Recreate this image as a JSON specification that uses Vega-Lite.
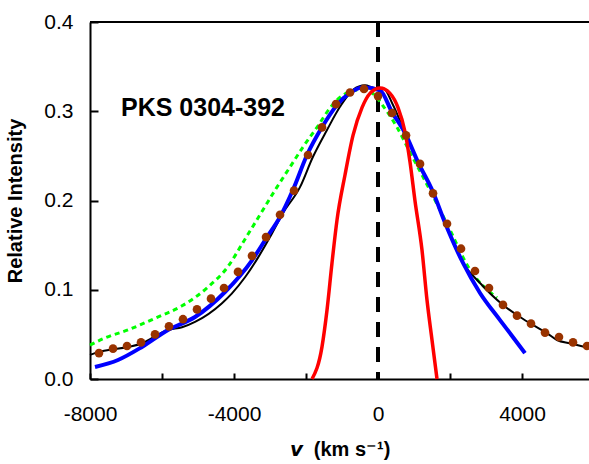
{
  "$schema": "https://vega.github.io/schema/vega-lite/v6.json",
  "autosize": {"type": "none"},
  "padding": {"left": 90, "top": 22, "right": 0, "bottom": 85},
  "width": 499,
  "height": 357,
  "background": "white",
  "config": {
    "view": {"stroke": null},
    "font": "Liberation Sans",
    "axis": {
      "domainColor": "black", "domainWidth": 2,
      "tickColor": "black", "tickWidth": 2,
      "grid": false,
      "labelFont": "Liberation Sans", "labelColor": "black", "labelFontSize": 21,
      "titleFont": "Liberation Sans", "titleColor": "black", "titleFontWeight": "bold"
    }
  },
  "datasets": {
    "black": [
      {"v": -8000, "I": 0.027}, {"v": -7861, "I": 0.029}, {"v": -6556, "I": 0.040},
      {"v": -5833, "I": 0.055}, {"v": -5444, "I": 0.058}, {"v": -5083, "I": 0.064},
      {"v": -4333, "I": 0.085}, {"v": -4056, "I": 0.096}, {"v": -3694, "I": 0.114},
      {"v": -3333, "I": 0.136}, {"v": -3000, "I": 0.159}, {"v": -2639, "I": 0.186},
      {"v": -2167, "I": 0.215}, {"v": -1806, "I": 0.249}, {"v": -1417, "I": 0.279},
      {"v": -1056, "I": 0.305}, {"v": -694, "I": 0.324}, {"v": -361, "I": 0.329},
      {"v": -83, "I": 0.326}, {"v": 139, "I": 0.326}, {"v": 417, "I": 0.307},
      {"v": 750, "I": 0.276}, {"v": 1111, "I": 0.243}, {"v": 1528, "I": 0.2095},
      {"v": 1861, "I": 0.175}, {"v": 2361, "I": 0.130}, {"v": 2833, "I": 0.1076},
      {"v": 3472, "I": 0.083}, {"v": 3944, "I": 0.0695}, {"v": 4306, "I": 0.0605},
      {"v": 4694, "I": 0.0515}, {"v": 4972, "I": 0.0437}, {"v": 5333, "I": 0.040},
      {"v": 5861, "I": 0.0347}
    ],
    "blue": [
      {"v": -7861, "I": 0.0134}, {"v": -7222, "I": 0.0213}, {"v": -6556, "I": 0.0359},
      {"v": -5833, "I": 0.0549}, {"v": -5083, "I": 0.0695}, {"v": -4250, "I": 0.0975},
      {"v": -3500, "I": 0.133}, {"v": -3083, "I": 0.159}, {"v": -2722, "I": 0.1815},
      {"v": -2361, "I": 0.212}, {"v": -1972, "I": 0.251}, {"v": -1556, "I": 0.282},
      {"v": -1139, "I": 0.307}, {"v": -778, "I": 0.3205}, {"v": -417, "I": 0.327},
      {"v": 56, "I": 0.3235}, {"v": 389, "I": 0.299}, {"v": 750, "I": 0.2756},
      {"v": 1111, "I": 0.243}, {"v": 1528, "I": 0.2095}, {"v": 1861, "I": 0.175},
      {"v": 2361, "I": 0.130}, {"v": 2833, "I": 0.0964}, {"v": 3389, "I": 0.066},
      {"v": 4083, "I": 0.029}
    ],
    "green": [
      {"v": -8000, "I": 0.038}, {"v": -7583, "I": 0.046}, {"v": -6944, "I": 0.055},
      {"v": -6194, "I": 0.068}, {"v": -5444, "I": 0.082}, {"v": -4722, "I": 0.103},
      {"v": -4167, "I": 0.126}, {"v": -3750, "I": 0.153}, {"v": -3278, "I": 0.184},
      {"v": -2806, "I": 0.215}, {"v": -2444, "I": 0.2375}, {"v": -2083, "I": 0.26},
      {"v": -1694, "I": 0.282}, {"v": -1333, "I": 0.3036}, {"v": -972, "I": 0.318},
      {"v": -500, "I": 0.324}, {"v": -150, "I": 0.320}, {"v": 139, "I": 0.306},
      {"v": 528, "I": 0.282}, {"v": 889, "I": 0.254}, {"v": 1222, "I": 0.2286},
      {"v": 2000, "I": 0.167}, {"v": 2472, "I": 0.128}, {"v": 3306, "I": 0.091}
    ],
    "red": [
      {"v": -1833, "I": 0.0}, {"v": -1556, "I": 0.036}, {"v": -1417, "I": 0.077},
      {"v": -1278, "I": 0.130}, {"v": -1139, "I": 0.178}, {"v": -917, "I": 0.2286},
      {"v": -694, "I": 0.273}, {"v": -444, "I": 0.304}, {"v": -222, "I": 0.320},
      {"v": 56, "I": 0.326}, {"v": 333, "I": 0.320}, {"v": 556, "I": 0.304},
      {"v": 750, "I": 0.277}, {"v": 889, "I": 0.243}, {"v": 1028, "I": 0.1994},
      {"v": 1222, "I": 0.1445}, {"v": 1361, "I": 0.0885}, {"v": 1500, "I": 0.0437},
      {"v": 1639, "I": 0.0}
    ],
    "dots": [
      {"v": -7750, "I": 0.029}, {"v": -7361, "I": 0.034}, {"v": -6972, "I": 0.037},
      {"v": -6583, "I": 0.041}, {"v": -6194, "I": 0.050}, {"v": -5806, "I": 0.059},
      {"v": -5417, "I": 0.067}, {"v": -5028, "I": 0.078}, {"v": -4639, "I": 0.090},
      {"v": -4278, "I": 0.102}, {"v": -3889, "I": 0.120}, {"v": -3500, "I": 0.138},
      {"v": -3111, "I": 0.159}, {"v": -2722, "I": 0.184}, {"v": -2333, "I": 0.211},
      {"v": -1944, "I": 0.251}, {"v": -1556, "I": 0.282}, {"v": -1167, "I": 0.308},
      {"v": -778, "I": 0.321}, {"v": -389, "I": 0.325}, {"v": 0, "I": 0.317},
      {"v": 389, "I": 0.298}, {"v": 778, "I": 0.273}, {"v": 1167, "I": 0.241},
      {"v": 1528, "I": 0.208}, {"v": 1917, "I": 0.174}, {"v": 2306, "I": 0.146},
      {"v": 2694, "I": 0.121}, {"v": 3083, "I": 0.102}, {"v": 3472, "I": 0.083},
      {"v": 3861, "I": 0.071}, {"v": 4250, "I": 0.062}, {"v": 4639, "I": 0.052},
      {"v": 5028, "I": 0.047}, {"v": 5417, "I": 0.041}, {"v": 5806, "I": 0.037}
    ],
    "label": [{"v": -4861, "I": 0.304, "text": "PKS 0304-392"}]
  },
  "layer": [
    {
      "data": {"name": "dots"},
      "mark": {"type": "rule", "color": "black", "strokeWidth": 3, "strokeDash": [15, 10]},
      "encoding": {"x": {"datum": 0, "type": "quantitative"}}
    },
    {
      "data": {"name": "dots"},
      "mark": {"type": "rule", "color": "black", "strokeWidth": 2},
      "encoding": {"y": {"datum": 0.4, "type": "quantitative"}}
    },
    {
      "data": {"name": "green"},
      "mark": {"type": "line", "color": "#00ff00", "strokeWidth": 3, "strokeDash": [5, 4], "interpolate": "monotone"},
      "encoding": {
        "x": {"field": "v", "type": "quantitative", "scale": {"domain": [-8000, 5861], "nice": false, "zero": false},
          "axis": {"values": [-8000, -6000, -4000, -2000, 0, 2000, 4000],
            "labelExpr": "datum.value % 4000 === 0 ? '' + datum.value : ''",
            "tickSize": -6, "labelPadding": 30, "labelFlush": false,
            "title": "𝙫\u00a0\u00a0(km s⁻¹)", "titleFontSize": 20, "titlePadding": 15}},
        "y": {"field": "I", "type": "quantitative", "scale": {"domain": [0, 0.4], "nice": false},
          "axis": {"values": [0, 0.1, 0.2, 0.3, 0.4], "format": ".1f",
            "tickSize": -8, "labelPadding": 25,
            "title": "Relative Intensity", "titleFontSize": 20, "titlePadding": 18}}
      }
    },
    {
      "data": {"name": "black"},
      "mark": {"type": "line", "color": "black", "strokeWidth": 2, "interpolate": "monotone"},
      "encoding": {"x": {"field": "v", "type": "quantitative"}, "y": {"field": "I", "type": "quantitative"}}
    },
    {
      "data": {"name": "blue"},
      "mark": {"type": "line", "color": "#0000ff", "strokeWidth": 4, "interpolate": "monotone"},
      "encoding": {"x": {"field": "v", "type": "quantitative"}, "y": {"field": "I", "type": "quantitative"}}
    },
    {
      "data": {"name": "red"},
      "mark": {"type": "line", "color": "#ff0000", "strokeWidth": 3.5, "interpolate": "monotone"},
      "encoding": {"x": {"field": "v", "type": "quantitative"}, "y": {"field": "I", "type": "quantitative"}}
    },
    {
      "data": {"name": "dots"},
      "mark": {"type": "circle", "color": "#993300", "opacity": 1, "size": 75},
      "encoding": {"x": {"field": "v", "type": "quantitative"}, "y": {"field": "I", "type": "quantitative"}}
    },
    {
      "data": {"name": "label"},
      "mark": {"type": "text", "font": "Liberation Sans", "fontWeight": "bold", "fontSize": 25, "color": "black", "align": "center", "baseline": "middle"},
      "encoding": {"x": {"field": "v", "type": "quantitative"}, "y": {"field": "I", "type": "quantitative"}, "text": {"field": "text"}}
    }
  ]
}
